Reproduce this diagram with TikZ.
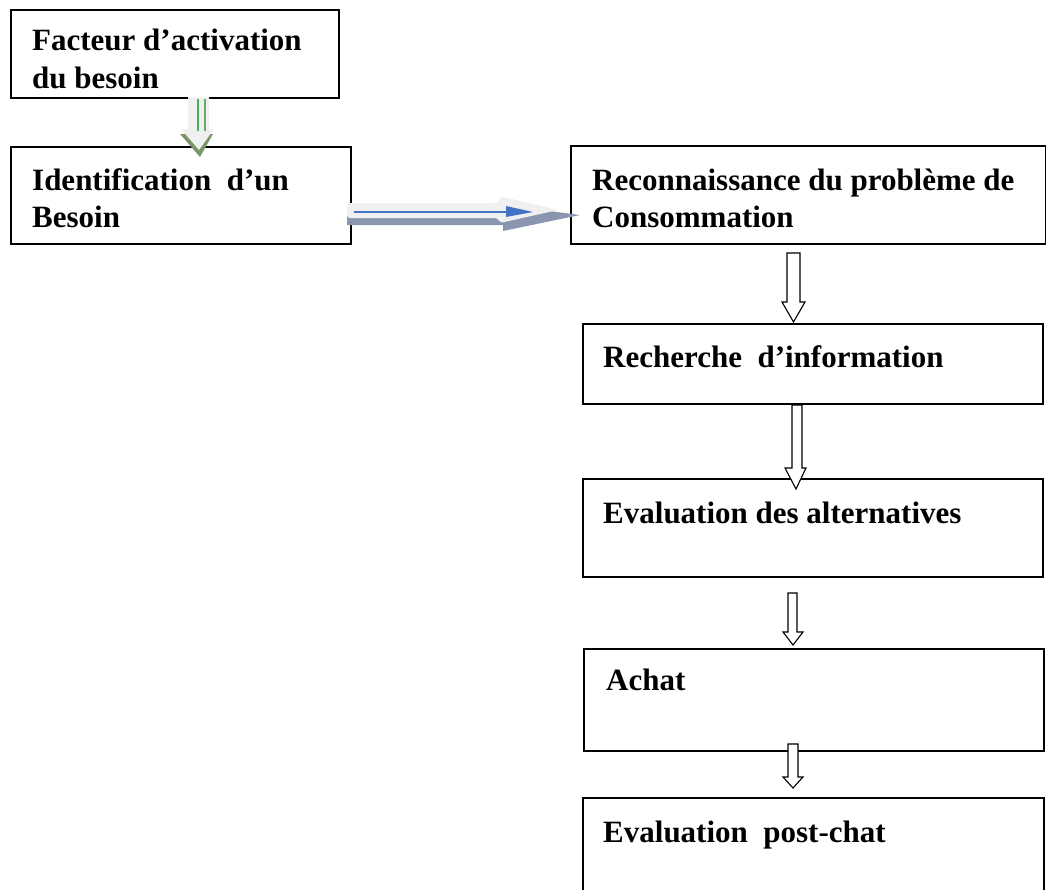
\documentclass[tikz,border=0pt]{standalone}
\usepackage{fontspec}
\setmainfont{Liberation Serif}
\definecolor{arrowblue}{RGB}{68,114,196}
\definecolor{shadowblue}{RGB}{138,150,176}
\definecolor{shadowgreen}{RGB}{122,150,105}
\begin{document}
\begin{tikzpicture}[x=1pt,y=-1pt,
  box/.style={draw=black, line width=1.8pt, rectangle, inner sep=0pt, anchor=north west},
  lbl/.style={anchor=base west, inner sep=0pt, font=\fontsize{31}{37}\selectfont\bfseries},
  blockarrow/.style={draw=black, fill=white, line width=1.1pt, line join=miter}]
\useasboundingbox (0,0) rectangle (1046,889);
\clip (0,0) rectangle (1046,889);
% boxes
\node[box, minimum width=328pt, minimum height=88pt] (b1) at (10,9) {};
\node[box, minimum width=340pt, minimum height=97pt] (b2) at (10,146) {};
\node[box, minimum width=475pt, minimum height=98pt] (b3) at (570,145) {};
\node[box, minimum width=460pt, minimum height=80pt] (b4) at (582,323) {};
\node[box, minimum width=460pt, minimum height=98pt] (b5) at (582,478) {};
\node[box, minimum width=460pt, minimum height=102pt] (b6) at (583,648) {};
\node[box, minimum width=461pt, minimum height=120pt] (b7) at (582,797) {};
% texts
\node[lbl] (t1a) at (32,50) {Facteur d’activation};
\node[lbl] (t1b) at (32,88) {du besoin};
\node[lbl] (t2a) at (32,190) {Identification\ \ d’un};
\node[lbl] (t2b) at (32,227) {Besoin};
\node[lbl] (t3a) at (592,190) {Reconnaissance du problème de};
\node[lbl] (t3b) at (592,227) {Consommation};
\node[lbl] (t4) at (603,367) {Recherche\ \ d’information};
\node[lbl] (t5) at (603,523) {Evaluation des alternatives};
\node[lbl] (t6) at (606,690) {Achat};
\node[lbl] (t7) at (603,842) {Evaluation\ \ post-chat};
% green arrow (b1 -> b2)
\fill[shadowgreen] (180,134) -- (213,134) -- (200,157) -- cycle;
\fill[gray!12] (188,97) -- (209,97) -- (209,129) -- (214,129) -- (199,150) -- (181,129) -- (188,129) -- cycle;
\draw[green!55!black!70, line width=1.3pt] (198,99) -- (198,131);
\draw[green!45!black!60, line width=1.3pt] (205,99) -- (205,131);
% blue arrow (b2 -> b3)
\fill[shadowblue] (347,210) -- (503,210) -- (503,205) -- (580,215) -- (503,231) -- (503,225) -- (347,225) -- cycle;
\fill[gray!12, rounded corners=3pt] (347,203) -- (498,203) -- (500,196) -- (558,210) -- (500,223) -- (498,218) -- (347,218) -- cycle;
\draw[arrowblue, line width=1.3pt] (354,212) -- (512,212);
\fill[arrowblue] (506,206) -- (533,212) -- (506,217) -- cycle;
% block arrows down
\draw[blockarrow] (787,253) -- (800,253) -- (800,302) -- (805,302) -- (793.5,322) -- (782,302) -- (787,302) -- cycle;
\draw[blockarrow] (792,405) -- (802,405) -- (802,468) -- (806,468) -- (796,489) -- (785,468) -- (792,468) -- cycle;
\draw[blockarrow] (788,593) -- (797,593) -- (797,632) -- (803,632) -- (793,645) -- (783,632) -- (788,632) -- cycle;
\draw[blockarrow] (788,744) -- (798,744) -- (798,777) -- (803,777) -- (793,788) -- (783,777) -- (788,777) -- cycle;
\end{tikzpicture}
\end{document}
